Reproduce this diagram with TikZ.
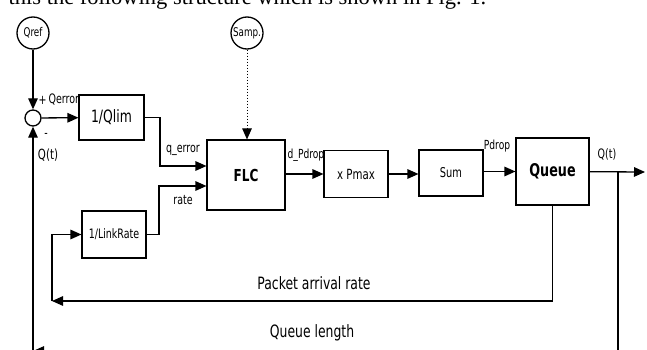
\documentclass[tikz,border=0pt]{standalone}
\usepackage{fontspec}
\setmainfont{Liberation Serif}
\newfontfamily\blockfont[FakeStretch=0.73]{DejaVu Sans}
\usetikzlibrary{arrows.meta}
\newcommand{\fsz}[1]{\fontsize{#1}{#1}\selectfont}

\begin{document}
\begin{tikzpicture}[x=1pt,y=-1pt,>={Triangle[length=11pt,width=9.5pt]},line width=1.3pt,
		blk/.style={draw,fill=white,line width=1.1pt,inner sep=0pt,font={\blockfont\fsz{17}}},
		src/.style={draw,circle,fill=white,inner sep=0pt,minimum size=32pt,font={\blockfont\fsz{12}}},
		lbl/.style={inner sep=0pt,font={\blockfont\fsz{13}}}]
	\clip (0,0) rectangle (647,350);
	\node[anchor=base west,inner sep=0pt,font=\fsz{22.5}] (intro) at (8,5) {this the following structure which is shown in Fig. 1.};
	% labels hidden in part by the blocks
	\node[lbl,anchor=west] (plus) at (38,100) {+};
	\node[lbl,anchor=west] (qerr) at (48,100) {Qerror};
	\node[lbl,anchor=west,font={\blockfont\fsz{12.5}}] (dpd) at (287,155) {d\_Pdrop};
	% sources and blocks
	\node[src] (qref) at (33,33) {Qref};
	\node[src,fill=none] (samp) at (247,33) {Samp.};
	\node[draw,circle,inner sep=0pt,minimum size=16pt] (sj) at (33,118) {};
	\node[blk,minimum width=65pt,minimum height=45pt] (qlim) at (111.5,117.5) {1/Qlim};
	\node[blk,minimum width=64pt,minimum height=47pt,font={\blockfont\fsz{13}}] (link) at (114,234.5) {1/LinkRate};
	\node[blk,minimum width=78pt,minimum height=70pt,font={\blockfont\bfseries\fsz{16.5}}] (flc) at (246,175) {FLC};
	\node[blk,minimum width=64pt,minimum height=47pt,font={\blockfont\fsz{14}}] (pmax) at (356,174) {x Pmax};
	\node[blk,minimum width=64pt,minimum height=46pt,font={\blockfont\fsz{13.5}}] (sum) at (451,173) {Sum};
	\node[blk,minimum width=73pt,minimum height=67pt,font={\blockfont\bfseries\fsz{17.5}}] (queue) at (552.5,171.5) {Queue};
	\path (645,172) coordinate (qout);
	\path (618,172) coordinate (tap);
	\path (618,351) coordinate (tapd);
	\path (33,351) coordinate (fbl);
	\path (552.5,301) coordinate (pkr);
	\path (52,301) coordinate (pkl);
	% connectors
	\draw[->] (qref) -- (sj);
	\draw[->] (sj) -- (qlim);
	\draw[->] (qlim.east) -- (160,117.5) |- (flc.west |- 0,166);
	\draw[->] (link.east) -- (159,234.5) |- (flc.west |- 0,186);
	\draw[->,dotted,line width=1pt] (samp) -- (samp |- flc.north);
	\draw[->] (flc.east |- pmax) -- (pmax);
	\draw[->] (pmax) -- (sum.west |- pmax);
	\draw[->] (sum.east |- queue) -- (queue);
	\draw[->] (queue) -- (qout);
	\draw[->] (queue) -- (pkr) -- (pkl);
	\draw[->] (pkl) |- (link);
	\draw[->] (tap) -- (tapd) -- (fbl);
	\draw[->] (fbl) -- (sj);
	% texts
	\node[lbl] (minus) at (46,135) {-};
	\node[lbl,font={\blockfont\fsz{14}}] (qtl) at (48,155) {Q(t)};
	\node[lbl] (qe) at (183,150) {q\_error};
	\node[lbl] (rt) at (183,200) {rate};
	\node[lbl,font={\blockfont\fsz{12.5}}] (pd) at (497,146) {Pdrop};
	\node[lbl] (qtr) at (607,154) {Q(t)};
	\node[lbl,font={\blockfont\fsz{17}}] (par) at (314,283) {Packet arrival rate};
	\node[lbl,font={\blockfont\fsz{17}}] (ql) at (312,333) {Queue length};
\end{tikzpicture}
\end{document}
